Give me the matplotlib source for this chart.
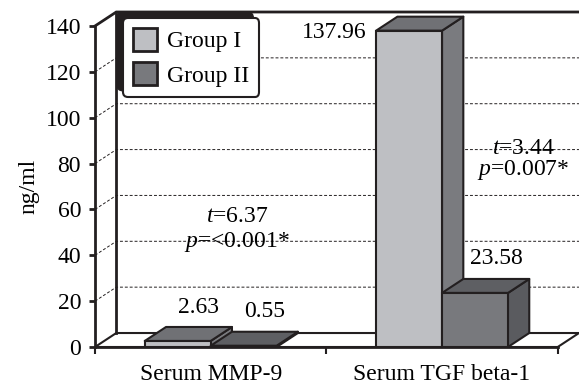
import numpy as np
import matplotlib
matplotlib.use('Agg')
import matplotlib.pyplot as plt
from matplotlib.patches import Polygon, Patch, FancyBboxPatch
from matplotlib.transforms import IdentityTransform

plt.rcParams['font.family'] = 'Liberation Serif'
plt.rcParams['mathtext.fontset'] = 'custom'
plt.rcParams['mathtext.rm'] = 'Liberation Serif'
plt.rcParams['mathtext.it'] = 'Liberation Serif:italic'

# data
categories = ['Serum MMP-9', 'Serum TGF beta-1']
groups = ['Group I', 'Group II']
group1 = [2.63, 137.96]
group2 = [0.55, 23.58]
t_values = ['6.37', '3.44']
p_values = ['<0.001*', '0.007*']
y_ticks = [0, 20, 40, 60, 80, 100, 120, 140]

ink = '#231f20'
front_cols = ['#bebfc3', '#78797d']
top_cols = ['#707175', '#5e5f63']
side_cols = ['#7a7b7f', '#5a5b5f']

DX, DY = 0.092, 6.1   # depth of the 3-D box, in data units
W = 0.285             # bar width
FS = 17

x = np.arange(len(categories))
x0, x1 = -0.5, len(categories) - 0.5
ymax = y_ticks[-1]

fig = plt.figure(figsize=(5.79, 3.84), dpi=100)
ax = fig.add_axes([95 / 579, 37 / 384, 484 / 579, 335 / 384])
ax.set_xlim(x0, x1 + DX)
ax.set_ylim(0, ymax + DY)

# floor, walls and gridlines
ax.add_patch(Polygon([(x0, 0), (x1, 0), (x1 + DX, DY), (x0 + DX, DY)], closed=True,
                     fc='white', ec=ink, lw=1.5, zorder=1))
ax.plot([x0 + DX, x0 + DX], [DY, ymax + DY], color=ink, lw=2, zorder=1, clip_on=False)
ax.plot([x0, x0 + DX, x1 + DX], [ymax, ymax + DY, ymax + DY], color=ink, lw=2,
        zorder=1, clip_on=False, solid_joinstyle='miter')
for v in y_ticks[1:-1]:
    ax.plot([x0, x0 + DX, x1 + DX], [v, v + DY, v + DY], color=ink, lw=0.7,
            ls=(0, (3, 2)), zorder=0.8)

# bars: front via ax.bar, top and side faces as polygons
for g, vals in enumerate([group1, group2]):
    left = x - W + g * W
    for xl, h in zip(left, vals):
        ax.add_patch(Polygon([(xl + W, 0), (xl + W + DX, DY), (xl + W + DX, h + DY), (xl + W, h)],
                             closed=True, fc=side_cols[g], ec=ink, lw=1.5, zorder=2.9 + g,
                             joinstyle='round'))
        ax.add_patch(Polygon([(xl, h), (xl + W, h), (xl + W + DX, h + DY), (xl + DX, h + DY)],
                             closed=True, fc=top_cols[g], ec=ink, lw=1.5, zorder=2.9 + g,
                             joinstyle='round'))
    ax.bar(left, vals, W, align='edge', color=front_cols[g], edgecolor=ink, lw=1.5,
           zorder=3 + g)
    for xl, h in zip(left, vals):
        if h + DY + 15 > ymax:
            ax.text(xl - 0.04, h - 3.2, f'{h:.2f}', ha='right', va='baseline',
                    fontsize=FS, zorder=6)
        else:
            ax.text(xl + W / 2 + DX, h + DY + 6.3, f'{h:.2f}', ha='center', va='baseline',
                    fontsize=FS, zorder=6)

# t-test annotations (baselines)
stat_pos = [(0.113, 54.5, 43.6), (1.35, 84.3, 75.0)]
for (sx, ty, py), tv, pv in zip(stat_pos, t_values, p_values):
    ax.text(sx, ty, r'$\it{t}$=' + tv, ha='center', va='baseline', fontsize=FS, zorder=6)
    ax.text(sx, py, r'$\it{p}$=' + pv, ha='center', va='baseline', fontsize=FS, zorder=6)

# axes
ax.spines[['top', 'right']].set_visible(False)
for s in ['left', 'bottom']:
    ax.spines[s].set_linewidth(2)
    ax.spines[s].set_color(ink)
ax.spines['left'].set_bounds(0, ymax)
ax.spines['bottom'].set_bounds(x0, x1)
ax.set_yticks(y_ticks)
ax.tick_params(axis='y', length=4, width=2, color=ink, pad=6, labelsize=FS)
ax.set_xticks(x, categories)
ax.set_xticks([x0, 0.5, x1], minor=True)
ax.tick_params(axis='x', which='major', length=0, pad=12, labelsize=FS)
ax.tick_params(axis='x', which='minor', length=5, width=1.5, color=ink)
ax.set_ylabel('ng/ml', fontsize=FS)
ax.yaxis.set_label_coords(-0.115, 0.478)

# legend with a solid shadow up and to the left
handles = [Patch(fc=front_cols[g], ec=ink, lw=2, label=groups[g]) for g in range(2)]
leg = ax.legend(handles=handles, loc='upper left', bbox_to_anchor=(123 / 579, 1 - 18 / 384),
                bbox_transform=fig.transFigure, borderaxespad=0, fontsize=FS,
                handlelength=1.0, handleheight=1.12, labelspacing=0.42, handletextpad=0.45,
                borderpad=0.42, fancybox=True, framealpha=1, edgecolor=ink)
leg.get_frame().set_linewidth(1.5)
leg.set_zorder(8)
fig.canvas.draw()
bb = leg.get_frame().get_window_extent()
shadow = FancyBboxPatch((bb.x0 - 6, bb.y0 + 6), bb.width, bb.height,
                        boxstyle='round,pad=0,rounding_size=6', transform=IdentityTransform(),
                        fc=ink, ec=ink, zorder=7, clip_on=False)
ax.add_artist(shadow)

fig.savefig('out.png', dpi=100)
